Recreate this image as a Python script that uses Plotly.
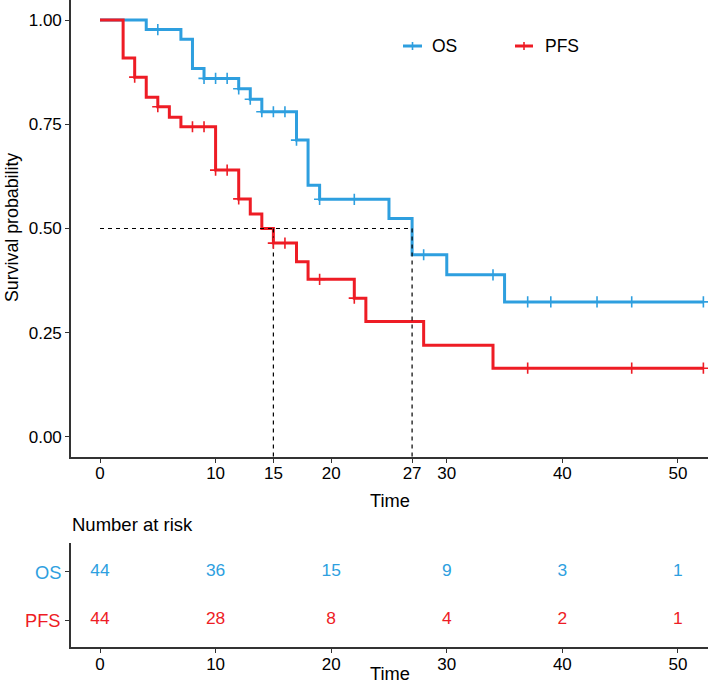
import plotly.graph_objects as go

# ---------------- data ----------------
os_times = [0, 4, 7, 8, 9, 12, 13, 14, 17, 18, 19, 25, 27, 30, 35, 52.2]
os_surv = [1.0, 0.977, 0.954, 0.884, 0.860, 0.835, 0.810, 0.780, 0.712, 0.604, 0.570, 0.524, 0.437, 0.389, 0.324, 0.324]
os_cens_t = [5, 9, 10, 11, 12, 13, 14, 15, 16, 17, 19, 22, 28, 34, 37, 39, 43, 46, 52.2]
os_cens_s = [0.977, 0.860, 0.860, 0.860, 0.835, 0.810, 0.780, 0.780, 0.780, 0.712, 0.570, 0.570,
             0.437, 0.389, 0.324, 0.324, 0.324, 0.324, 0.324]

pfs_times = [0, 2, 3, 4, 5, 6, 7, 10, 12, 13, 14, 15, 17, 18, 22, 23, 28, 34, 52.2]
pfs_surv = [1.0, 0.909, 0.863, 0.815, 0.792, 0.767, 0.744, 0.640, 0.571, 0.535, 0.500, 0.465,
            0.420, 0.378, 0.333, 0.277, 0.220, 0.165, 0.165]
pfs_cens_t = [3, 5, 8, 9, 10, 11, 12, 15, 16, 19, 22, 37, 46, 52.2]
pfs_cens_s = [0.863, 0.792, 0.744, 0.744, 0.640, 0.640, 0.571, 0.465, 0.465, 0.378, 0.333,
              0.165, 0.165, 0.165]

median_pfs = 15
median_os = 27
median_level = 0.5

main_xticks = [0, 10, 15, 20, 27, 30, 40, 50]
y_ticks = [0, 0.25, 0.5, 0.75, 1.0]
y_ticktext = ["0.00", "0.25", "0.50", "0.75", "1.00"]

risk_times = [0, 10, 20, 30, 40, 50]
os_risk = [44, 36, 15, 9, 3, 1]
pfs_risk = [44, 28, 8, 4, 2, 1]
series_names = ["OS", "PFS"]

# ---------------- style ----------------
W, H = 708, 684
BLUE = "#2E9FDF"
RED = "#EE1C25"
AXC = "#333333"
FONT = "Liberation Sans, Arial, sans-serif"
FS = 17
FS_TITLE = 18.3
XRANGE = [-2.509, 52.60]
YRANGE = [-0.048, 1.048]


def px(x):
    return x / W


def py(y):
    return (H - y) / H


fig = go.Figure()

# survival curves
for t, s, c, name in [(os_times, os_surv, BLUE, "OS"), (pfs_times, pfs_surv, RED, "PFS")]:
    fig.add_trace(go.Scatter(x=t, y=s, mode="lines", line=dict(color=c, width=3, shape="hv"),
                             name=name, showlegend=False, xaxis="x", yaxis="y"))

# median lines
dash = "4px,4px"
fig.add_trace(go.Scatter(x=[0, median_os], y=[median_level, median_level], mode="lines",
                         line=dict(color="black", width=1.2, dash=dash), showlegend=False))
for m in [median_pfs, median_os]:
    fig.add_trace(go.Scatter(x=[m, m], y=[median_level, YRANGE[0]], mode="lines",
                             line=dict(color="black", width=1.2, dash=dash), showlegend=False))

# censor marks
for t, s, c in [(os_cens_t, os_cens_s, BLUE), (pfs_cens_t, pfs_cens_s, RED)]:
    fig.add_trace(go.Scatter(x=t, y=s, mode="markers",
                             marker=dict(symbol="cross-thin", size=8, color=c,
                                         line=dict(color=c, width=1.6)),
                             showlegend=False))

# risk table numbers
for vals, c, row in [(os_risk, BLUE, 2), (pfs_risk, RED, 1)]:
    fig.add_trace(go.Scatter(x=risk_times, y=[row] * len(vals), mode="text",
                             text=[str(v) for v in vals],
                             textfont=dict(color=c, size=17.4, family=FONT),
                             showlegend=False, xaxis="x2", yaxis="y2"))

axis_common = dict(showline=True, linecolor=AXC, linewidth=1.6, ticks="outside",
                   ticklen=4, tickwidth=1.2, tickcolor=AXC, showgrid=False, zeroline=False,
                   tickfont=dict(family=FONT, size=FS, color="black"))

fig.update_layout(
    width=W, height=H, autosize=False,
    margin=dict(l=0, r=0, t=0, b=0),
    plot_bgcolor="white", paper_bgcolor="white",
    font=dict(family=FONT, size=FS, color="black"),
    xaxis=dict(domain=[px(71), 1], range=XRANGE, tickvals=main_xticks, anchor="y",
               ticklabelstandoff=-4, **axis_common),
    yaxis=dict(domain=[py(457), 1], range=YRANGE, tickvals=y_ticks, ticktext=y_ticktext,
               anchor="x", **axis_common),
    xaxis2=dict(domain=[px(71), 1], range=XRANGE, tickvals=risk_times, anchor="y2",
                ticklabelstandoff=-3, **axis_common),
    yaxis2=dict(domain=[py(647), py(543)], range=[0.4375, 2.604], tickvals=[1, 2],
                showticklabels=False, anchor="x2", **{k: v for k, v in axis_common.items() if k != "tickfont"}),
)

ann = []
# axis titles
ann.append(dict(text="Time", x=px(389.5), y=py(501), xref="paper", yref="paper",
                showarrow=False, xanchor="center", yanchor="middle", font=dict(size=FS_TITLE)))
ann.append(dict(text="Time", x=px(389.5), y=py(673), xref="paper", yref="paper",
                showarrow=False, xanchor="center", yanchor="middle", font=dict(size=FS_TITLE)))
ann.append(dict(text="Survival probability", x=px(12), y=py(228), xref="paper", yref="paper",
                showarrow=False, textangle=-90, xanchor="center", yanchor="middle", font=dict(size=17.8)))
ann.append(dict(text="Number at risk", x=px(70), y=py(524), xref="paper", yref="paper",
                showarrow=False, xanchor="left", yanchor="middle", font=dict(size=18.5)))
# risk table row labels
ann.append(dict(text=series_names[0], x=px(63), y=py(572), xref="paper", yref="paper",
                showarrow=False, xanchor="right", yanchor="middle", font=dict(size=FS_TITLE, color=BLUE)))
ann.append(dict(text=series_names[1], x=px(63), y=py(620), xref="paper", yref="paper",
                showarrow=False, xanchor="right", yanchor="middle", font=dict(size=FS_TITLE, color=RED)))

# legend (manual)
shapes = []
for (x0, x1, tx, c, name) in [(403, 422, 430, BLUE, series_names[0]), (515, 533, 543, RED, series_names[1])]:
    shapes.append(dict(type="line", xref="paper", yref="paper", x0=px(x0), x1=px(x1),
                       y0=py(46), y1=py(46), line=dict(color=c, width=3)))
    xm = (x0 + x1) / 2
    shapes.append(dict(type="line", xref="paper", yref="paper", x0=px(xm), x1=px(xm),
                       y0=py(42), y1=py(50), line=dict(color=c, width=1.6)))
    ann.append(dict(text=name, x=px(tx), y=py(46), xref="paper", yref="paper",
                    showarrow=False, xanchor="left", yanchor="middle", font=dict(size=17.5)))

fig.update_layout(annotations=ann, shapes=shapes)

fig.write_html("out.html", config={"displayModeBar": False},
               post_script="document.body.style.margin='0';")
